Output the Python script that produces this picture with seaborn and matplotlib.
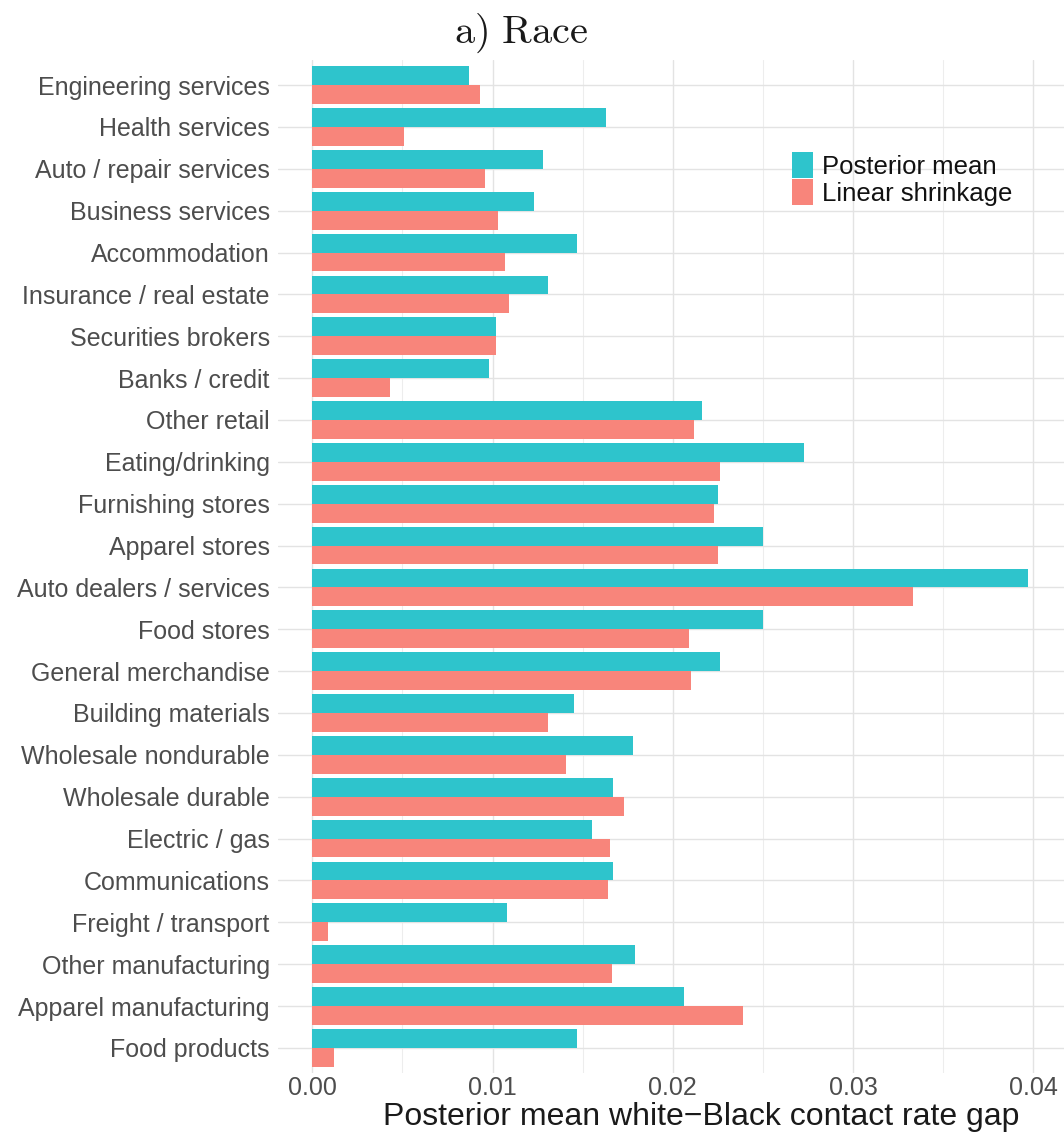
import matplotlib
matplotlib.use("Agg")
import matplotlib.pyplot as plt
import seaborn as sns
import pandas as pd
from matplotlib.ticker import MultipleLocator

industries = [
    "Engineering services", "Health services", "Auto / repair services",
    "Business services", "Accommodation", "Insurance / real estate",
    "Securities brokers", "Banks / credit", "Other retail", "Eating/drinking",
    "Furnishing stores", "Apparel stores", "Auto dealers / services",
    "Food stores", "General merchandise", "Building materials",
    "Wholesale nondurable", "Wholesale durable", "Electric / gas",
    "Communications", "Freight / transport", "Other manufacturing",
    "Apparel manufacturing", "Food products",
]

posterior_mean = [
    0.0087, 0.0163, 0.0128, 0.0123, 0.0147, 0.0131, 0.0102, 0.0098,
    0.0216, 0.0273, 0.0225, 0.0250, 0.0397, 0.0250, 0.0226, 0.0145,
    0.0178, 0.0167, 0.0155, 0.0167, 0.0108, 0.0179, 0.0206, 0.0147,
]

linear_shrinkage = [
    0.0093, 0.0051, 0.0096, 0.0103, 0.0107, 0.0109, 0.0102, 0.0043,
    0.0212, 0.0226, 0.0223, 0.0225, 0.0333, 0.0209, 0.0210, 0.0131,
    0.0141, 0.0173, 0.0165, 0.0164, 0.0009, 0.0166, 0.0239, 0.0012,
]

series_names = ["Posterior mean", "Linear shrinkage"]
series_colors = ["#2EC4CC", "#F8857B"]

x_ticks = [0.00, 0.01, 0.02, 0.03, 0.04]
x_tick_labels = ["0.00", "0.01", "0.02", "0.03", "0.04"]

df = pd.DataFrame({
    "industry": industries * 2,
    "gap": posterior_mean + linear_shrinkage,
    "estimator": [series_names[0]] * len(industries) + [series_names[1]] * len(industries),
})

sns.set_theme(style="white")
plt.rcParams["font.family"] = ["Liberation Sans", "DejaVu Sans"]
plt.rcParams["mathtext.fontset"] = "cm"

fig = plt.figure(figsize=(10.64, 11.34), dpi=100)
ax = fig.add_axes([0.2613, 0.0538, 0.7387, 0.8933])

sns.barplot(
    data=df, y="industry", x="gap", hue="estimator",
    order=industries, hue_order=series_names,
    palette=series_colors, orient="h", width=0.9,
    saturation=1, errorbar=None, ax=ax, edgecolor="none",
)

ax.set_xlim(-0.0019, 0.0417)
ax.set_ylim(len(industries) - 0.4, -0.6)
ax.set_xticks(x_ticks)
ax.set_xticklabels(x_tick_labels)
ax.xaxis.set_minor_locator(MultipleLocator(0.005))

# light grid drawn beneath the bars
ax.set_axisbelow(True)
ax.grid(which="major", axis="x", color="#E3E3E3", linewidth=1.0)
ax.grid(which="minor", axis="x", color="#EDEDED", linewidth=0.8)
ax.yaxis.grid(True, which="major", color="#E3E3E3", linewidth=1.0)

for side in ax.spines.values():
    side.set_visible(False)
ax.tick_params(axis="both", which="both", length=0, colors="#4D4D4D", labelsize=18)
ax.tick_params(axis="y", pad=6)
ax.tick_params(axis="x", pad=2)

ax.set_ylabel("")
ax.set_xlabel("Posterior mean white\u2212Black contact rate gap", fontsize=23,
              color="#1A1A1A")
ax.xaxis.set_label_coords(0.539, -0.0285)

fig.text(0.49, 0.971, r"$\mathrm{a)\ Race}$", fontsize=29, ha="center", va="center",
         color="#1A1A1A")

leg = ax.legend(
    title=None, loc="upper left", bbox_to_anchor=(0.732, 0.877),
    bbox_transform=fig.transFigure, frameon=False, fontsize=18.5,
    handlelength=0.83, handleheight=1.17, labelspacing=0.0,
    handletextpad=0.33, borderpad=0.0,
)
for t in leg.get_texts():
    t.set_color("#111111")

fig.savefig("out.png", dpi=100, facecolor="white")
